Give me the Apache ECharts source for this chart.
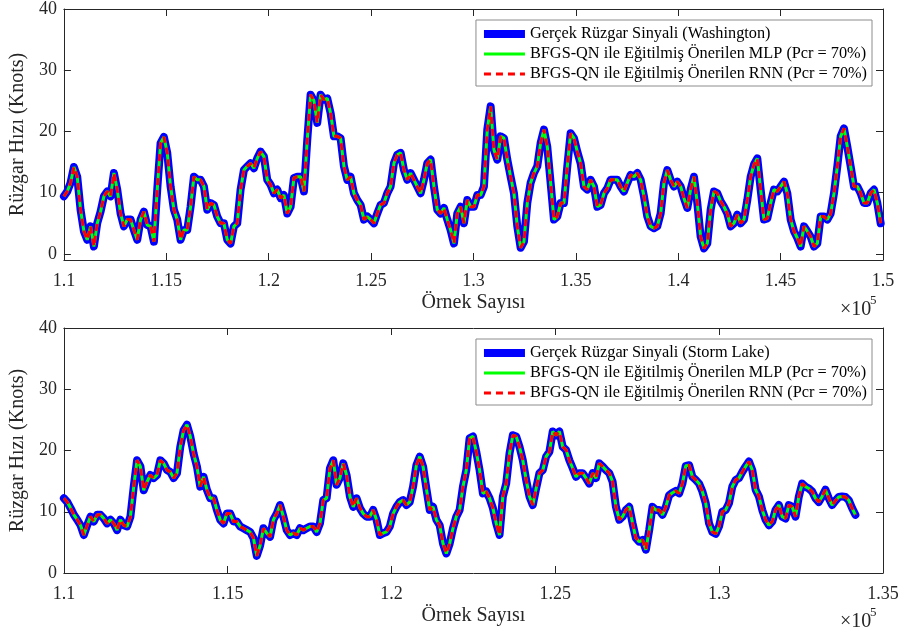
<!DOCTYPE html>
<html>
<head>
<meta charset="utf-8">
<script src="https://cdn.jsdelivr.net/npm/echarts@6/dist/echarts.min.js"></script>
<style>
  html, body { margin: 0; padding: 0; background: #fff; }
  #main { width: 904px; height: 639px; }
</style>
</head>
<body>
<div id="main"></div>
<script>
// sample index (x) starts and spacing
var washStart = 110000, washStep = 162.8;
var stormStart = 110000, stormStep = 101.5;

// wind speed (knots)
var washSpeed = [
  9.4, 10.2, 11.6, 14.2, 12.6, 7.2, 3.7, 2.3, 4.5, 1.2,
  5.0, 6.9, 9.4, 10.2, 9.4, 13.2, 10.5, 6.6, 4.5, 5.6,
  5.6, 3.9, 2.3, 5.6, 6.9, 4.7, 4.5, 2.0, 10.5, 18.1,
  19.1, 16.5, 11.0, 7.2, 5.6, 2.3, 3.9, 3.9, 7.7, 12.6,
  12.1, 12.1, 11.0, 7.2, 8.3, 8.0, 6.1, 5.0, 5.0, 2.3,
  1.7, 4.5, 5.0, 10.5, 13.7, 14.3, 14.8, 14.0, 15.6, 16.7,
  15.9, 12.1,
  11.3, 9.9, 10.5, 9.1, 9.6, 6.6, 7.7, 12.4, 12.6, 12.6,
  10.2, 18.6, 26.0, 25.0, 21.4, 26.0, 25.2, 25.4, 23.0, 19.2,
  19.2, 18.9, 14.3, 12.1, 12.6, 9.9, 8.8, 8.0, 5.6, 6.1,
  5.6, 5.0, 6.6, 8.0, 8.3, 9.9, 11.0, 14.8, 16.2, 16.5,
  13.7, 12.1, 13.2, 12.1, 11.0, 9.9, 12.1, 14.8, 15.4, 11.0,
  7.2, 6.6, 7.5, 5.6, 3.9, 1.7, 6.6, 7.7, 5.0, 8.8,
  7.7,
  7.7, 9.6, 9.6, 11.0, 20.3, 24.1, 17.0, 15.4, 19.2, 18.9,
  15.4, 12.6, 9.9, 4.5, 1.0, 2.0, 8.3, 11.6, 13.2, 14.3,
  18.1, 20.3, 17.5, 11.6, 5.6, 6.1, 8.3, 8.3, 14.3, 19.7,
  18.9, 16.7, 14.8, 11.0, 10.5, 12.1, 11.0, 7.7, 8.0, 9.9,
  10.7, 12.1, 12.1, 12.1, 11.0, 10.2, 11.6, 12.9, 12.6, 13.2,
  12.1, 9.4, 6.1, 4.5, 4.2, 4.5, 6.6, 11.6, 13.7, 12.1,
  11.0, 11.8,
  11.0, 9.1, 7.5, 10.5, 12.6, 8.3, 2.8, 0.9, 1.7, 7.2,
  10.2, 9.9, 8.6, 7.7, 6.6, 4.5, 5.0, 6.4, 5.0, 5.6,
  8.8, 12.6, 14.6, 15.6, 10.5, 5.6, 5.8, 8.3, 10.5, 10.2,
  11.0, 11.8, 9.9, 5.6, 3.7, 2.6, 1.2, 4.5, 3.7, 2.8,
  1.2, 1.7, 6.1, 6.1, 5.6, 6.6, 9.9, 14.3, 19.2, 20.5,
  17.5, 14.3, 11.0, 11.0, 9.9, 8.3, 8.3, 9.9, 10.5, 8.3,
  5.0
];

var stormSpeed = [
  12.2, 11.6, 10.6, 9.5, 8.7, 7.8, 6.2, 7.8, 9.2, 8.4,
  9.5, 9.5, 8.9, 8.1, 8.7, 8.1, 7.0, 8.7, 7.8, 7.6,
  9.2, 14.1, 18.4, 17.4, 13.5, 14.9, 16.0, 15.5, 16.0, 18.4,
  17.9, 16.8, 16.5, 15.5, 16.3, 20.6, 23.3, 24.2, 22.3, 19.5,
  17.4, 14.1, 15.7, 13.6, 12.2, 12.2, 10.3, 8.7, 8.1, 9.7,
  9.7, 8.4, 8.4, 7.6, 7.3, 7.0, 6.7, 5.7, 2.8, 4.5,
  7.3, 6.5, 5.9, 8.7, 9.7, 11.1, 9.2, 7.0, 6.2, 6.5,
  6.2, 7.3, 7.0, 7.3, 7.6, 7.6, 6.7, 8.1, 11.9, 12.2,
  17.1, 18.4, 14.4, 15.5, 17.9, 16.0, 12.5, 10.8, 12.2, 10.6,
  9.7, 9.2, 9.2, 10.3, 8.7, 6.2, 6.5, 6.7, 7.6, 9.7,
  10.8, 11.6, 11.9, 11.1, 11.6, 14.1, 17.6, 19.0, 17.4, 13.8,
  10.3, 10.8, 8.7, 7.8, 4.8, 3.2, 4.8, 7.3, 9.2,
  10.3, 14.1, 16.8, 22.0, 22.3, 19.8, 16.8, 13.0, 13.3, 12.2,
  10.6, 8.1, 6.2, 12.5, 14.6, 19.5, 22.5, 22.3, 20.6, 18.4,
  15.2, 12.5, 11.1, 13.8, 16.3, 16.8, 19.0, 19.8, 23.1, 22.5,
  23.1, 20.6, 20.1, 18.4, 17.1, 15.7, 16.3, 16.3, 15.5, 14.6,
  16.3, 15.5, 17.9, 17.4, 16.8, 16.3, 14.9, 10.8, 8.7, 9.2,
  10.3, 10.8, 8.1, 5.7, 5.1, 5.4, 3.8, 7.0, 10.8,
  10.3, 10.3, 9.5, 10.8, 12.7, 13.1, 13.4, 13.0, 14.6, 17.5,
  17.6, 15.7, 15.2, 14.6, 13.3, 11.4, 8.1, 6.7, 6.4, 7.6,
  10.0, 10.3, 11.4, 14.1, 15.2, 15.5, 16.5, 17.4, 18.2, 16.8,
  13.6, 12.5, 10.3, 8.7, 7.8, 8.4, 10.3, 11.1, 9.2, 8.9,
  11.1, 10.8, 9.2, 12.5, 14.6, 14.1, 13.8, 13.3, 12.2, 11.6,
  12.5, 13.6, 12.2, 11.1, 11.8, 12.4, 12.5, 12.4, 11.9, 10.6,
  9.5
];

// the MLP / RNN predictions sit on top of the measured signal at this scale
var washMlp = washSpeed, washRnn = washSpeed;
var stormMlp = stormSpeed, stormRnn = stormSpeed;

var yTicks = [0, 10, 20, 30, 40];
var washName = 'Gerçek Rüzgar Sinyali (Washington)';
var stormName = 'Gerçek Rüzgar Sinyali (Storm Lake)';
var mlpName = 'BFGS-QN ile Eğitilmiş Önerilen MLP (Pcr = 70%)';
var rnnName = 'BFGS-QN ile Eğitilmiş Önerilen RNN (Pcr = 70%)';

var FONT = 'Liberation Serif';
var BLUE = '#0000ff', GREEN = '#00ff00', RED = '#ff0000';

function pairs(vals, start, step) {
  return vals.map(function (v, i) { return [start + i * step, v]; });
}

function xAx(grid, max, pos, withLabels) {
  return {
    type: 'value', gridIndex: grid, position: pos, min: 110000, max: max, interval: 5000,
    axisLine: { show: true, onZero: false, lineStyle: { color: '#262626', width: 1 } },
    axisTick: { show: true, inside: true, length: 7, lineStyle: { color: '#262626' } },
    splitLine: { show: false },
    axisLabel: {
      show: withLabels, color: '#262626', fontFamily: FONT, fontSize: 18, margin: 12,
      showMinLabel: true, showMaxLabel: true,
      formatter: function (v) { return String(+(v / 1e5).toFixed(2)); }
    },
    name: withLabels ? 'Örnek Sayısı' : '', nameLocation: 'middle', nameGap: 33,
    nameTextStyle: { color: '#262626', fontFamily: FONT, fontSize: 20 }
  };
}

function yAx(grid, min, pos, withLabels) {
  return {
    type: 'value', gridIndex: grid, position: pos, min: min, max: 40,
    axisLine: { show: true, onZero: false, lineStyle: { color: '#262626', width: 1 } },
    axisTick: { show: true, inside: true, length: 7, customValues: yTicks, lineStyle: { color: '#262626' } },
    splitLine: { show: false },
    axisLabel: { show: withLabels, customValues: yTicks, color: '#262626', fontFamily: FONT, fontSize: 18, margin: 7 },
    name: withLabels ? 'Rüzgar Hızı (Knots)' : '', nameLocation: 'middle', nameGap: 30,
    nameTextStyle: { color: '#262626', fontFamily: FONT, fontSize: 20 }
  };
}

function lines(xi, yi, real, mlp, rnn, vals1, vals2, vals3, start, step) {
  return [
    { name: real, type: 'line', xAxisIndex: xi, yAxisIndex: yi, data: pairs(vals1, start, step),
      symbol: 'none', lineStyle: { color: BLUE, width: 8, join: 'round', cap: 'round' }, itemStyle: { color: BLUE }, z: 2 },
    { name: mlp, type: 'line', xAxisIndex: xi, yAxisIndex: yi, data: pairs(vals2, start, step),
      symbol: 'none', lineStyle: { color: GREEN, width: 3 }, itemStyle: { color: GREEN }, z: 3 },
    { name: rnn, type: 'line', xAxisIndex: xi, yAxisIndex: yi, data: pairs(vals3, start, step),
      symbol: 'none', lineStyle: { color: RED, width: 3, type: [7, 5] }, itemStyle: { color: RED }, z: 4 }
  ];
}

function legendItems(realName) {
  return [
    { name: realName, itemStyle: { opacity: 0 }, lineStyle: { color: BLUE, width: 8, cap: 'butt' } },
    { name: mlpName, itemStyle: { opacity: 0 }, lineStyle: { color: GREEN, width: 3, cap: 'butt' } },
    { name: rnnName, itemStyle: { opacity: 0 }, lineStyle: { color: RED, width: 3, type: [7, 5], cap: 'butt' } }
  ];
}

var legendBase = {
  orient: 'vertical', right: 32, selectedMode: false,
  backgroundColor: '#fff', borderColor: '#8c8c8c', borderWidth: 1,
  padding: [5, 5, 3, 4], itemGap: 2, itemWidth: 41, itemHeight: 14,
  textStyle: { color: '#000', fontFamily: FONT, fontSize: 16.3, lineHeight: 18 }
};

var chart = echarts.init(document.getElementById('main'), null, { renderer: 'canvas' });
chart.setOption({
  backgroundColor: '#fff',
  animation: false,
  grid: [
    { left: 62, right: 21, top: 8, height: 252 },
    { left: 62, right: 21, top: 328, height: 245 }
  ],
  xAxis: [
    xAx(0, 150000, 'bottom', true), xAx(0, 150000, 'top', false),
    xAx(1, 135000, 'bottom', true), xAx(1, 135000, 'top', false)
  ],
  yAxis: [
    yAx(0, -1, 'left', true), yAx(0, -1, 'right', false),
    yAx(1, 0, 'left', true), yAx(1, 0, 'right', false)
  ],
  legend: [
    Object.assign({}, legendBase, { top: 20, data: legendItems(washName) }),
    Object.assign({}, legendBase, { top: 339, data: legendItems(stormName) })
  ],
  graphic: [
    { type: 'text', left: 840, top: 300, style: { text: '×10', fill: '#262626', font: '20px "Liberation Serif"' } },
    { type: 'text', left: 870, top: 294, style: { text: '5', fill: '#262626', font: '13px "Liberation Serif"' } },
    { type: 'text', left: 840, top: 612, style: { text: '×10', fill: '#262626', font: '20px "Liberation Serif"' } },
    { type: 'text', left: 870, top: 606, style: { text: '5', fill: '#262626', font: '13px "Liberation Serif"' } }
  ],
  series: [].concat(
    lines(0, 0, washName, mlpName, rnnName, washSpeed, washMlp, washRnn, washStart, washStep),
    lines(2, 2, stormName, mlpName, rnnName, stormSpeed, stormMlp, stormRnn, stormStart, stormStep)
  )
});
</script>
</body>
</html>
